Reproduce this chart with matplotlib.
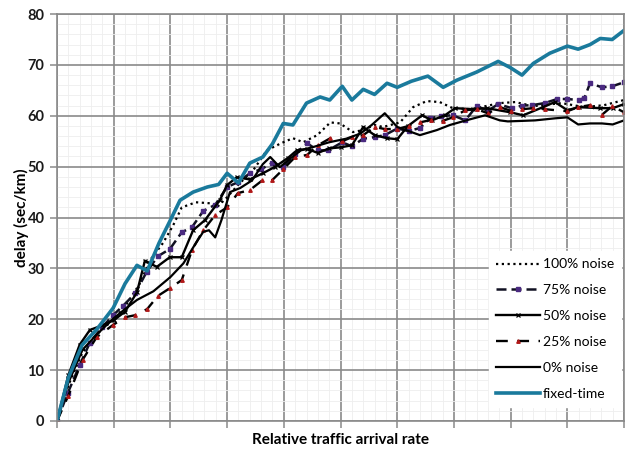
import matplotlib
matplotlib.use("Agg")
import matplotlib.pyplot as plt
from matplotlib.ticker import MultipleLocator, NullFormatter

plt.rcParams['font.family'] = ['Lato', 'DejaVu Sans']

# delay (sec/km) against relative traffic arrival rate, one series per controller
x_noise100 = [0, 0.2, 0.45, 0.7, 1.0, 1.2, 1.46, 1.64, 1.87, 2.05, 2.2, 2.45, 2.7, 2.82, 3.0,
              3.2, 3.46, 3.7, 3.95, 4.16, 4.34, 4.59, 4.82, 4.99, 5.22, 5.4, 5.6, 5.75, 6.05,
              6.28, 6.52, 6.75, 6.98, 7.3, 7.6, 7.81, 8.08, 8.4, 8.9, 9.3, 9.65, 10.0]
y_noise100 = [0, 7, 13.5, 17, 20, 22.5, 27, 31.6, 35.0, 38.5, 42, 43, 42.8, 42, 44,
              46.5, 49.3, 53.2, 54.6, 55.6, 54.8, 56.2, 58.7, 58.5, 56.8, 57.2, 58.2, 57.8, 58.7,
              61.7, 62.9, 62.7, 61.5, 61.3, 62.0, 62.5, 62.7, 61.9, 62.5, 61.7, 62.1, 63.1]

x_noise75 = [0, 0.19, 0.4, 0.58, 0.8, 0.99, 1.17, 1.38, 1.58, 1.78, 1.99, 2.2, 2.38, 2.58, 2.79,
             3.0, 3.2, 3.4, 3.6, 3.79, 3.99, 4.2, 4.41, 4.6, 4.78, 5.03, 5.2, 5.4, 5.6, 5.78,
             6.0, 6.2, 6.4, 6.58, 6.78, 6.98, 7.2, 7.4, 7.6, 7.78, 8.02, 8.2, 8.38, 8.6, 8.82,
             9.0, 9.2, 9.3, 9.4, 9.61, 9.79, 10.0]
y_noise75 = [0, 5.5, 11, 15.4, 18.5, 20.8, 22.7, 25.1, 29.3, 32.4, 33.8, 37.1, 38.1, 41.3, 42.5,
             46, 47, 48.7, 49.5, 50.7, 50.0, 52.5, 54.6, 53.2, 53.2, 54.8, 54.0, 55.5, 55.8, 56.2,
             57.5, 57.0, 57.6, 59.5, 60.0, 60.1, 59.1, 61.9, 61.0, 62.3, 61.5, 62.0, 62.1, 62.5, 63.3,
             63.3, 63.1, 63.5, 66.4, 65.6, 65.8, 66.6]

x_noise50 = [0, 0.2, 0.4, 0.58, 0.8, 1.0, 1.2, 1.41, 1.55, 1.76, 1.99, 2.2, 2.4, 2.61, 2.87,
             3.0, 3.17, 3.4, 3.63, 3.85, 4.07, 4.23, 4.41, 4.6, 4.8, 5.0, 5.2, 5.4, 5.6, 5.82,
             6.0, 6.19, 6.44, 6.61, 6.84, 7.02, 7.34, 7.58, 7.99, 8.22, 8.57, 8.78, 9.0, 9.2,
             9.58, 9.8, 10.0]
y_noise50 = [0, 9, 15, 17.9, 18.8, 19.8, 21.5, 25.3, 31.5, 30.3, 32.2, 32.2, 37.5, 39.5, 43.4,
             46.4, 47.9, 47.5, 48.7, 50.0, 51.7, 53.2, 53.5, 52.7, 53.6, 53.8, 54.2, 57.8, 56.2, 55.6,
             55.4, 58.0, 60.1, 59.1, 60.1, 61.5, 61.3, 61.5, 60.7, 60.1, 61.7, 62.7, 61.1, 61.7,
             61.5, 61.5, 62.3]

x_noise25 = [0, 0.2, 0.45, 0.7, 0.99, 1.2, 1.38, 1.59, 1.78, 1.99, 2.2, 2.38, 2.58, 2.79, 3.0,
             3.19, 3.4, 3.62, 3.79, 3.99, 4.2, 4.41, 4.6, 4.82, 5.03, 5.2, 5.4, 5.6, 5.78, 6.0,
             6.2, 6.4, 6.6, 6.8, 6.98, 7.2, 7.4, 7.6, 7.81, 8.0, 8.2, 8.4, 8.6, 9.0, 9.19, 9.4,
             9.61, 9.79, 10.0]
y_noise25 = [0, 5, 12, 16.5, 18.9, 20.4, 20.8, 22, 24.6, 26.1, 27.7, 33.6, 37.5, 40.5, 42,
             44.8, 45.4, 47.3, 47.3, 49.5, 51.9, 52.3, 54.2, 55.6, 55.0, 55.8, 56.2, 57.8, 57.4, 57.4,
             58.0, 58.7, 59.2, 59.0, 59.7, 61.1, 61.3, 60.5, 61.7, 61.0, 61.3, 61.5, 61.3, 60.9, 61.7, 62.1,
             60.2, 61.9, 60.7]

x_noise0 = [0, 0.2, 0.45, 0.7, 1.0, 1.2, 1.41, 1.7, 2.0, 2.23, 2.45, 2.58, 2.68, 2.79, 2.9,
            3.05, 3.23, 3.44, 3.63, 3.76, 3.93, 4.1, 4.3, 4.5, 4.8, 5.1, 5.35, 5.55, 5.78, 6.0,
            6.2, 6.4, 6.7, 6.93, 7.28, 7.55, 7.81, 7.95, 8.2, 8.43, 8.78, 9.0, 9.19, 9.4, 9.61,
            9.8, 10.0]
y_noise0 = [0, 7.5, 14, 17, 20.2, 22, 23.8, 25.5, 28.3, 31, 35, 37.2, 37.5, 36.1, 39.5,
            45.0, 45.8, 47.3, 50.5, 51.9, 49.9, 51.5, 53.2, 53.8, 54.8, 55.5, 56.5, 58.2, 60.5, 57.8,
            57.0, 56.2, 57.2, 58.2, 59.3, 60.1, 59.1, 58.9, 59.0, 59.1, 59.5, 59.7, 58.3, 58.5, 58.5,
            58.3, 59.1]

x_fixed = [0, 0.2, 0.44, 0.7, 0.99, 1.2, 1.41, 1.59, 1.8, 2.0, 2.17, 2.4, 2.65, 2.85, 3.0,
           3.2, 3.4, 3.63, 3.8, 3.99, 4.16, 4.4, 4.64, 4.81, 5.03, 5.2, 5.4, 5.6, 5.82, 6.0,
           6.25, 6.54, 6.81, 7.05, 7.4, 7.78, 7.99, 8.2, 8.4, 8.69, 9.0, 9.19, 9.4, 9.58, 9.79, 10.0]
y_fixed = [0, 8.5, 14.9, 18.0, 22.2, 27.0, 30.6, 29.5, 35.0, 39.5, 43.4, 45.0, 46.0, 46.5, 48.7,
           46.8, 50.7, 51.9, 54.5, 58.5, 58.2, 62.5, 63.7, 63.1, 65.8, 63.1, 65.2, 64.2, 66.4, 65.6,
           66.8, 67.8, 65.6, 67.0, 68.6, 70.7, 69.5, 68.0, 70.3, 72.3, 73.7, 73.1, 74.0, 75.2, 75.0, 76.8]

fig = plt.figure(figsize=(6.25, 4.54), dpi=100)
ax = fig.add_axes([0.0912, 0.0727, 0.9073, 0.8963])

grid_major = '#8a8a8a'
grid_minor = '#eeeeee'

ax.set_xlim(0, 10)
ax.set_ylim(0, 80)
ax.xaxis.set_major_locator(MultipleLocator(1))
ax.xaxis.set_minor_locator(MultipleLocator(0.2))
ax.yaxis.set_major_locator(MultipleLocator(10))
ax.yaxis.set_minor_locator(MultipleLocator(2))
ax.xaxis.set_major_formatter(NullFormatter())
ax.grid(which='minor', color=grid_minor, linewidth=0.6)
ax.grid(which='major', color=grid_major, linewidth=1.2)
ax.set_axisbelow(True)
ax.tick_params(axis='both', which='major', direction='out', length=5, width=1.1,
               color=grid_major, labelsize=10.5, labelcolor='#1a1a1a', pad=4)
ax.tick_params(axis='both', which='minor', length=0)
for lbl in ax.get_yticklabels():
    lbl.set_fontweight('bold')
for s in ax.spines.values():
    s.set_color(grid_major)
    s.set_linewidth(1.2)

ax.plot(x_noise100, y_noise100, color='black', linestyle=(0, (1, 1.6)), linewidth=1.6,
        label='100% noise')
ax.plot(x_noise75, y_noise75, color='#111122', linestyle=(0, (4, 2)), linewidth=1.8,
        marker='s', markersize=2.5, markerfacecolor='#4a2a80', markeredgecolor='#4a2a80',
        label='75% noise')
ax.plot(x_noise50, y_noise50, color='black', linestyle='-', linewidth=1.7,
        marker='x', markersize=3.5, markeredgewidth=0.9, label='50% noise')
ax.plot(x_noise25, y_noise25, color='black', linestyle=(0, (5, 4)), linewidth=1.7,
        marker='^', markersize=2.5, markerfacecolor='#b01818', markeredgecolor='#b01818',
        label='25% noise')
ax.plot(x_noise0, y_noise0, color='black', linestyle='-', linewidth=1.6, label='0% noise')
ax.plot(x_fixed, y_fixed, color='#1a7a9c', linestyle='-', linewidth=2.6, label='fixed-time')

leg = ax.legend(loc='lower right', bbox_to_anchor=(0.995, 0.035), borderaxespad=0,
                fontsize=10, frameon=True, fancybox=False, edgecolor='white',
                framealpha=1, handlelength=3.2, handletextpad=0.2, labelspacing=1.0,
                numpoints=1, borderpad=0.5)

ax.set_ylabel('delay (sec/km)', fontsize=11, fontweight='bold', labelpad=-1)
ax.set_xlabel('Relative traffic arrival rate', fontsize=11, fontweight='bold', labelpad=0)

fig.savefig('out.png', dpi=100)
